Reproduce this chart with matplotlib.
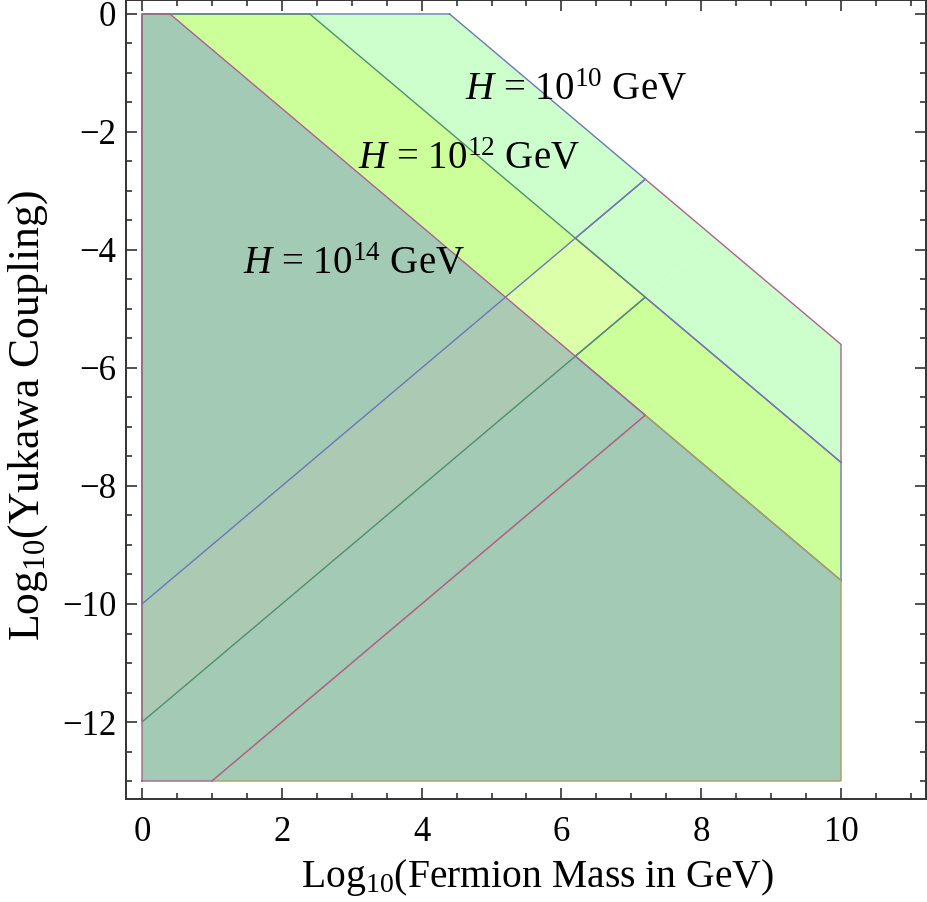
import numpy as np
import matplotlib
matplotlib.use("Agg")
import matplotlib.pyplot as plt
from matplotlib.ticker import MultipleLocator

# ---------------- data ----------------
H_exponents = [10, 12, 14]                 # Hubble scale, log10(H/GeV)
upper_intercepts = [4.4, 2.4, 0.4]         # upper boundary  y = -x + u
lower_intercepts = [-10.0, -12.0, -14.0]   # lower boundary  y =  x + d
mass_range = [0.0, 10.0]                   # log10 fermion mass range
coupling_range = [-13.0, 0.0]              # log10 yukawa range
labels = [r"$H$ = 10$^{10}$ GeV", r"$H$ = 10$^{12}$ GeV", r"$H$ = 10$^{14}$ GeV"]
label_pos_x = [6.21, 4.68, 3.03]
label_pos_y = [-1.30, -2.47, -4.25]
xticks = [0, 2, 4, 6, 8, 10]
yticks = [0, -2, -4, -6, -8, -10, -12]

# ---------------- styles ----------------
plt.rcParams['mathtext.fontset'] = 'custom'
plt.rcParams['mathtext.rm'] = 'Liberation Serif'
plt.rcParams['mathtext.it'] = 'Liberation Serif:italic'
plt.rcParams['font.family'] = ['Liberation Serif', 'DejaVu Serif']

# cell colours: [band index][column class]  (class 0: above D10, 1: between D12 & D10, 2: below D12)
cell_colors = [
    ["#ccffcc", "#ccffcc", "#ccffcc"],
    ["#ccff99", "#dcffaa", "#ccff99"],
    ["#a2cab5", "#abc9b3", "#a2cab5"],
]
edge_blue = "#6a78b8"
edge_magenta = "#b06090"
edge_teal = "#4e8f6e"
edge_olive = "#aca060"


def clip(poly, a, b, c):
    """keep part of polygon where a*x + b*y + c >= 0"""
    out = []
    n = len(poly)
    for i in range(n):
        p = poly[i]
        q = poly[(i + 1) % n]
        fp = a * p[0] + b * p[1] + c
        fq = a * q[0] + b * q[1] + c
        if fp >= 0:
            out.append(p)
        if (fp >= 0) != (fq >= 0):
            t = fp / (fp - fq)
            out.append((p[0] + t * (q[0] - p[0]), p[1] + t * (q[1] - p[1])))
    return out


def region(constraints):
    x0, x1 = mass_range
    y0, y1 = coupling_range
    poly = [(x0, y0), (x1, y0), (x1, y1), (x0, y1)]
    for con in constraints:
        poly = clip(poly, *con)
        if not poly:
            break
    return poly

# constraint helpers ( -> a*x + b*y + c >= 0 )
def below_U(u):   # y <= -x + u
    return (-1.0, -1.0, u)

def above_U(u):   # y >= -x + u
    return (1.0, 1.0, -u)

def above_D(d):   # y >= x + d
    return (-1.0, 1.0, -d)

def below_D(d):   # y <= x + d
    return (1.0, -1.0, d)


fig = plt.figure(figsize=(9.27, 9.02), dpi=100)
ax = fig.add_axes([126 / 927, 1 - 799 / 902, 800 / 927, 799 / 902])

u = upper_intercepts
d = lower_intercepts

# -------- fills (cells) --------
band_cons = [
    [below_U(u[0]), above_U(u[1])],
    [below_U(u[1]), above_U(u[2])],
    [below_U(u[2])],
]
class_cons = [
    [above_D(d[0])],
    [below_D(d[0]), above_D(d[1])],
    [below_D(d[1])],
]
for bi, bc in enumerate(band_cons):
    for ci, cc in enumerate(class_cons):
        poly = region(bc + cc)
        if len(poly) >= 3:
            xs, ys = zip(*poly)
            ax.fill(xs, ys, color=cell_colors[bi][ci], lw=0, zorder=1)

# -------- outlines (regions), drawn in this order --------
regions = [
    ([below_U(u[0]), above_U(u[1]), below_D(d[0])], edge_magenta),           # R10
    ([above_D(d[0]), below_U(u[0])], edge_blue),                              # L10
    ([below_U(u[1]), above_U(u[2]), below_D(d[1])], edge_blue),              # R12
    ([above_D(d[1]), below_U(u[1])], edge_teal),                              # L12
    ([below_U(u[2]), below_D(d[2])], edge_olive),                             # R14
    ([above_D(d[2]), below_U(u[2])], edge_magenta),                           # L14
]
for cons, col in regions:
    poly = region(cons)
    if len(poly) >= 3:
        xs, ys = zip(*(poly + [poly[0]]))
        ax.plot(xs, ys, color=col, lw=1.0, zorder=2, solid_joinstyle='miter')

# -------- labels --------
for txt, lx, ly in zip(labels, label_pos_x, label_pos_y):
    ax.text(lx, ly, txt, fontsize=28, ha='center', va='center', zorder=3)

# -------- axes --------
ax.set_xlim(-0.229, 11.216)
ax.set_ylim(-13.305, 0.237)
ax.set_xticks(xticks)
ax.set_yticks(yticks)
ax.xaxis.set_minor_locator(MultipleLocator(0.5))
ax.yaxis.set_minor_locator(MultipleLocator(0.5))
ax.tick_params(which='both', direction='in', top=True, right=True,
               labeltop=False, labelright=False, width=1.2, color='#333333')
ax.tick_params(which='major', length=8, labelsize=25)
ax.tick_params(axis='x', which='major', pad=12)
ax.tick_params(axis='y', which='major', pad=7)
ax.tick_params(which='minor', length=4.5)
for s in ax.spines.values():
    s.set_linewidth(1.4)
    s.set_color('#333333')

ax.set_xlabel(r"Log$_{10}$(Fermion Mass in GeV)", fontsize=28.5)
ax.set_ylabel(r"Log$_{10}$(Yukawa Coupling)", fontsize=31.5)
ax.xaxis.set_label_coords(0.5 + 11 / 800, -0.072)
ax.yaxis.set_label_coords(-0.095, 0.48)

fig.savefig("out.png", dpi=100)
